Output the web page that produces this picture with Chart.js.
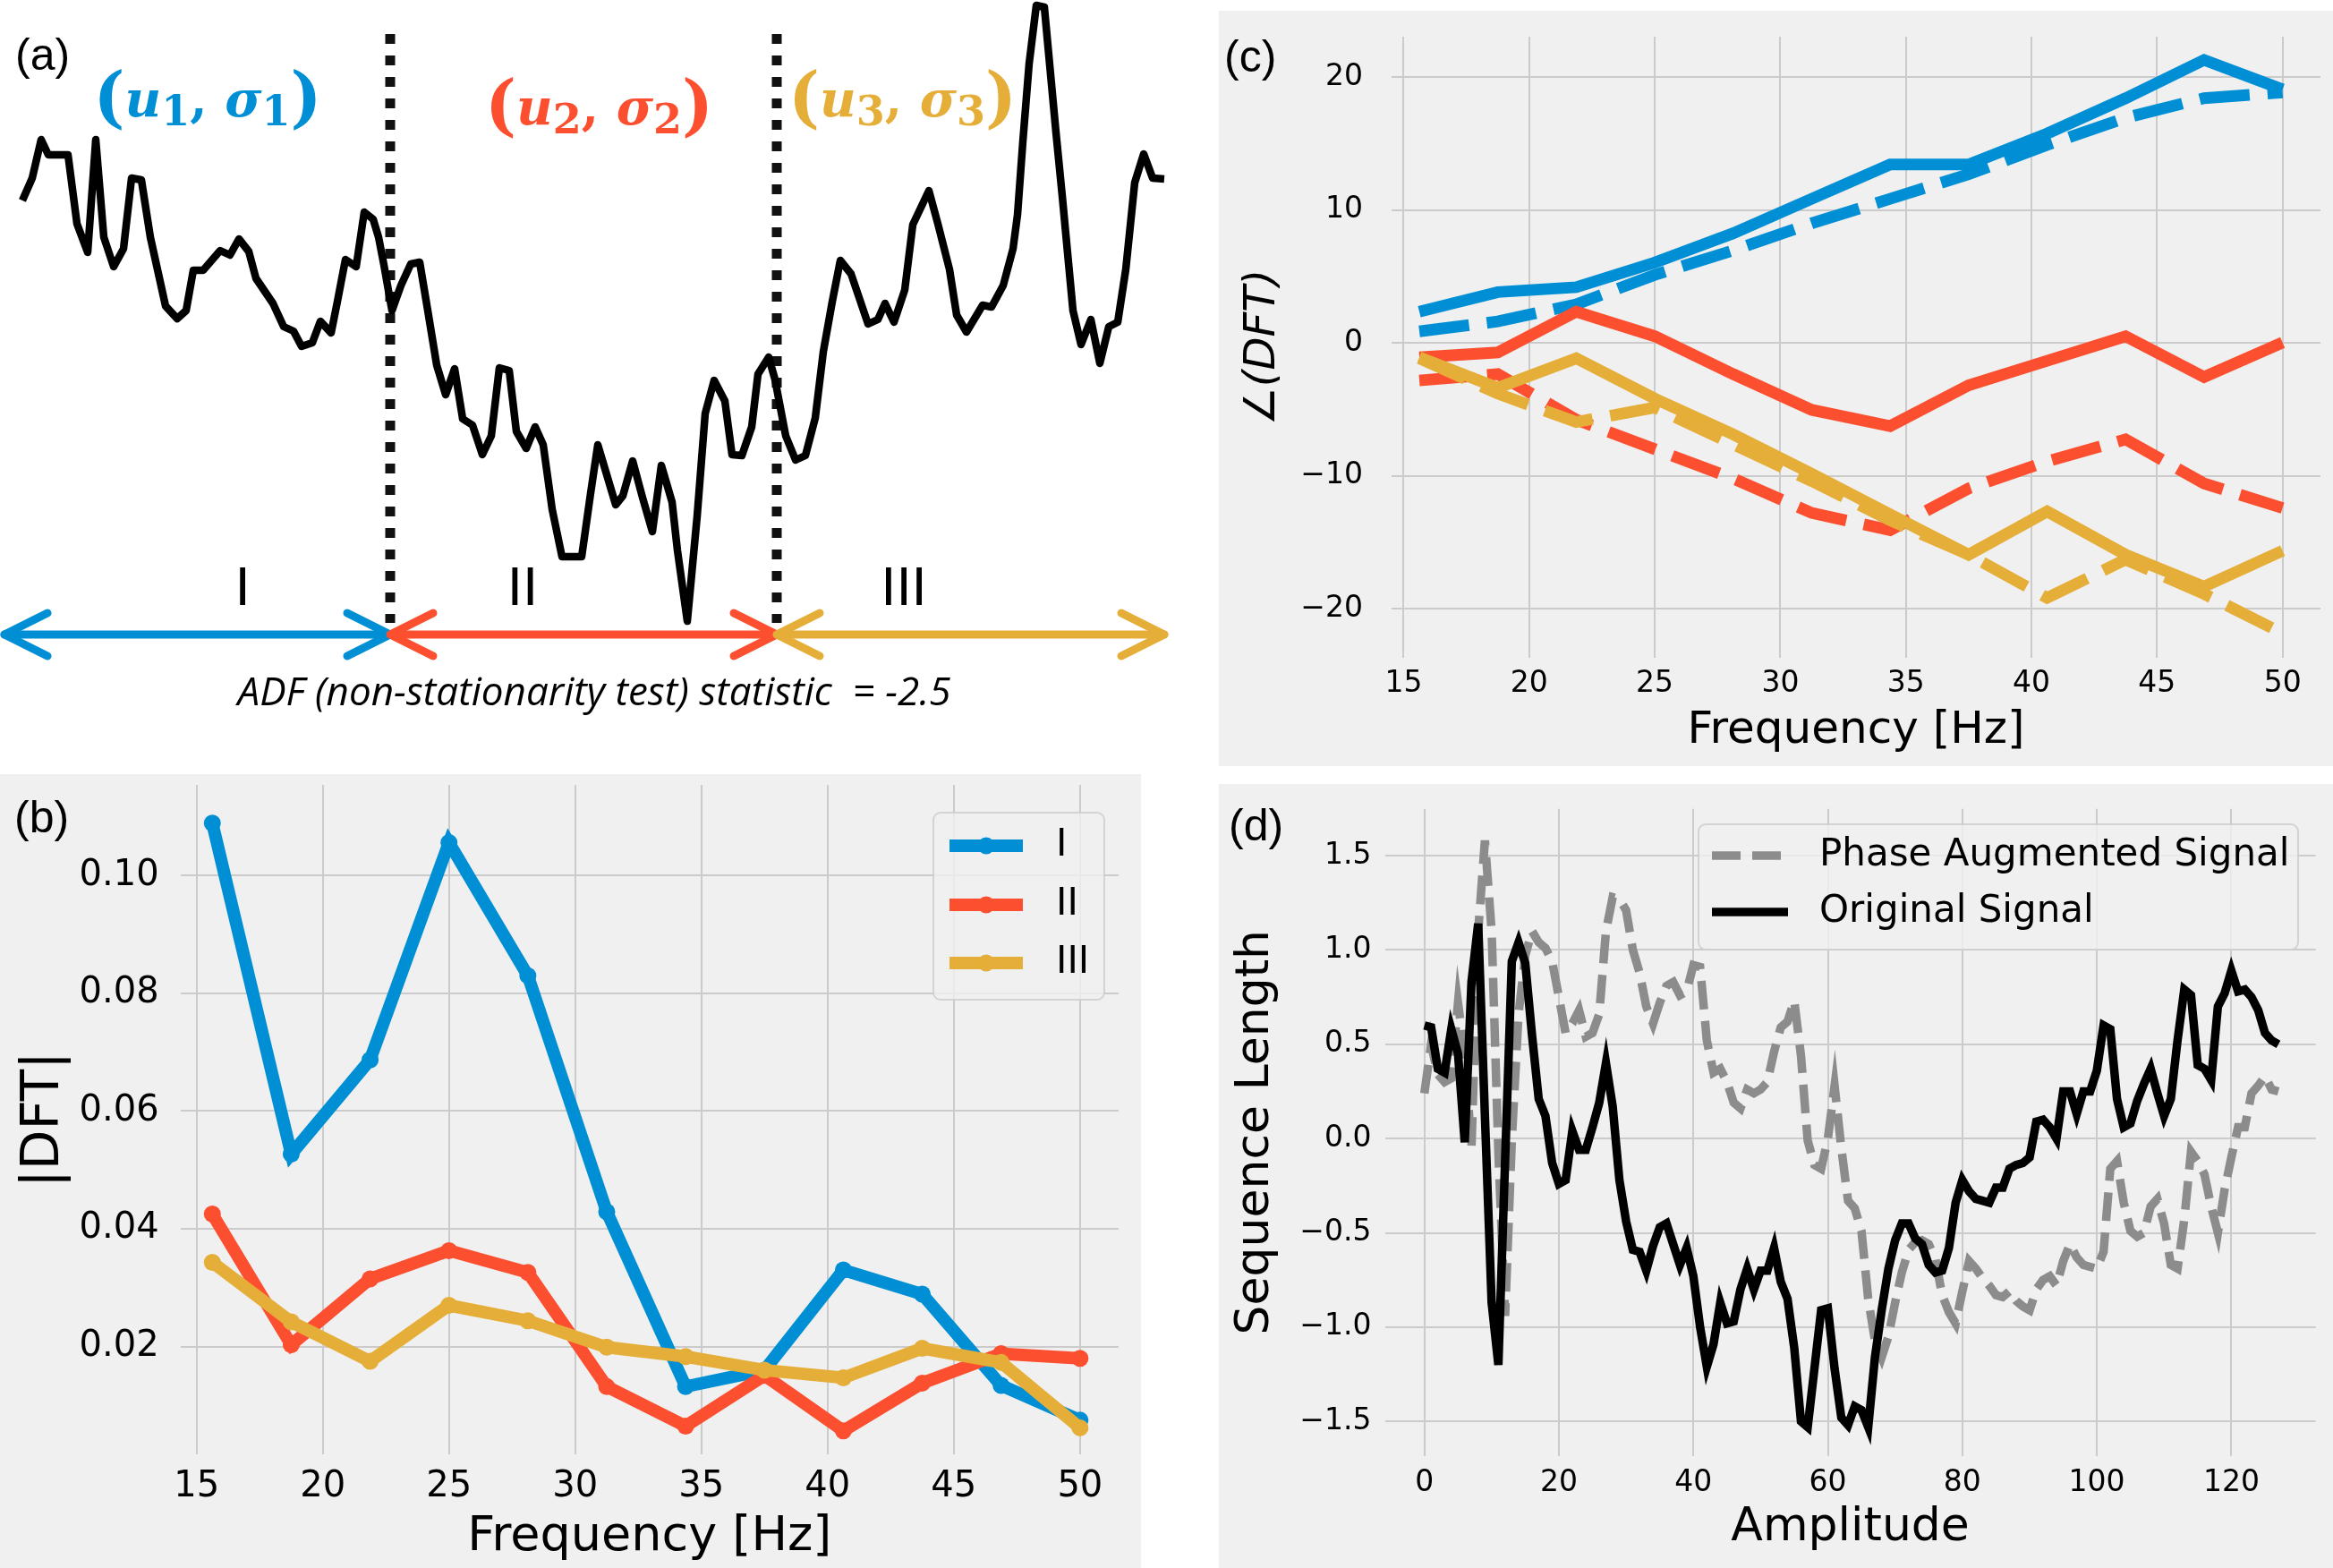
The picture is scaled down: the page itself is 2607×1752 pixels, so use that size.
<!DOCTYPE html>
<html>
<head>
<meta charset="utf-8">
<script src="https://cdn.jsdelivr.net/npm/chart.js@4.4.1/dist/chart.umd.min.js"></script>
<style>
  html, body { margin: 0; padding: 0; background: #fff; }
  body { position: relative; width: 2607px; height: 1752px; overflow: hidden; }
  canvas { position: absolute; }
  #panelA { left: 0; top: 0; }
  #panelB { left: 0; top: 865px; }
  #panelC { left: 1362px; top: 12px; }
  #panelD { left: 1362px; top: 876px; }
</style>
</head>
<body>
<canvas id="panelA" width="1330" height="860"></canvas>
<canvas id="panelB" width="1275" height="887"></canvas>
<canvas id="panelC" width="1245" height="844"></canvas>
<canvas id="panelD" width="1245" height="876"></canvas>
<script>
// ===== DATA =====
// (a) example signal with three regimes
const sigTime = [
  0.0, 1.1, 2.1, 2.9, 3.8, 5.1, 6.1, 7.3, 8.2, 9.1,
  10.2, 11.3, 12.2, 13.3, 14.3, 16.0, 17.3, 18.3, 19.1, 20.2,
  22.1, 23.2, 24.2, 25.3, 26.1, 28.0, 29.2, 30.3, 31.2, 32.4,
  33.3, 34.5, 35.2, 36.1, 37.3, 38.2, 39.2, 39.8, 40.4, 41.3,
  42.3, 43.4, 44.4, 45.3, 46.3, 47.3, 48.3, 49.2, 50.3, 51.4,
  52.4, 53.3, 54.4, 55.2, 56.3, 57.3, 58.2, 59.2, 60.3, 62.5,
  63.5, 64.3, 66.3, 67.1, 68.2, 69.3, 70.4, 71.4, 72.6, 73.2,
  74.3, 75.4, 76.3, 77.3, 78.5, 79.3, 80.4, 81.5, 82.2, 83.4,
  84.1, 85.3, 86.4, 87.5, 88.6, 89.5, 90.5, 91.4, 92.6, 94.5,
  95.6, 96.4, 97.4, 98.6, 99.5, 101.3, 102.3, 103.6, 104.4, 105.5,
  107.3, 108.3, 109.6, 110.7, 111.2, 111.8, 112.5, 113.3, 114.2, 115.5,
  116.2, 117.4, 118.3, 119.4, 120.4, 121.4, 122.4, 123.3, 124.3, 125.3,
  126.3, 127.6
];
const sigValue = [
  1.56, 1.81, 2.24, 2.07, 2.07, 2.07, 1.30, 0.98, 2.24, 1.15,
  0.82, 1.02, 1.81, 1.79, 1.15, 0.38, 0.24, 0.33, 0.78, 0.78,
  1.00, 0.95, 1.13, 0.99, 0.69, 0.41, 0.15, 0.10, -0.07, -0.03,
  0.21, 0.08, 0.43, 0.90, 0.82, 1.43, 1.35, 1.15, 0.84, 0.33,
  0.61, 0.85, 0.87, 0.33, -0.28, -0.61, -0.32, -0.88, -0.95, -1.28,
  -1.07, -0.31, -0.34, -1.02, -1.21, -0.97, -1.17, -1.89, -2.42, -2.42,
  -1.71, -1.17, -1.84, -1.74, -1.35, -1.76, -2.14, -1.40, -1.81, -2.35,
  -3.14, -1.97, -0.82, -0.45, -0.68, -1.28, -1.29, -0.97, -0.38, -0.19,
  -0.44, -1.07, -1.34, -1.29, -0.87, -0.13, 0.43, 0.89, 0.74, 0.18,
  0.23, 0.41, 0.20, 0.56, 1.29, 1.67, 1.30, 0.79, 0.28, 0.09,
  0.39, 0.37, 0.61, 1.02, 1.40, 2.22, 3.09, 3.74, 3.72, 2.32,
  1.61, 0.33, -0.05, 0.23, -0.26, 0.15, 0.20, 0.79, 1.76, 2.08,
  1.81, 1.80
];
const segBounds = [-2.0, 41.1, 84.3, 127.6];
const segLabels = ['I', 'II', 'III'];
const adfText = 'ADF (non-stationarity test) statistic  = -2.5';

// (b), (c) frequency bins
const freqs = [15.625, 18.75, 21.875, 25, 28.125, 31.25, 34.375, 37.5, 40.625, 43.75, 46.875, 50];
const dftMag1 = [0.1089, 0.0527, 0.0687, 0.1056, 0.0830, 0.0429, 0.0132, 0.0160, 0.0330, 0.0289, 0.0134, 0.0075];
const dftMag2 = [0.0425, 0.0203, 0.0315, 0.0363, 0.0326, 0.0132, 0.0065, 0.0151, 0.0057, 0.0138, 0.0188, 0.0180];
const dftMag3 = [0.0343, 0.0242, 0.0175, 0.0270, 0.0244, 0.0199, 0.0183, 0.0160, 0.0147, 0.0197, 0.0173, 0.0062];

const phase1 = [2.35, 3.82, 4.19, 6.04, 8.25, 10.84, 13.43, 13.43, 15.75, 18.41, 21.29, 19.08];
const phase1Aug = [0.87, 1.61, 2.90, 5.12, 6.96, 9.00, 10.84, 12.69, 14.90, 16.93, 18.41, 18.85];
const phase2 = [-1.09, -0.72, 2.35, 0.50, -2.35, -5.04, -6.26, -3.19, -1.35, 0.50, -2.57, 0.02];
const phase2Aug = [-2.83, -2.35, -5.78, -8.00, -10.21, -12.80, -14.09, -10.95, -8.92, -7.26, -10.58, -12.43];
const phase3 = [-1.09, -3.38, -1.16, -4.19, -6.89, -9.84, -12.91, -15.94, -12.69, -15.94, -18.34, -15.64];
const phase3Aug = [-1.16, -3.82, -5.96, -4.86, -7.63, -10.40, -13.35, -15.94, -19.19, -16.31, -18.89, -21.85];

const freqTicks = [15, 20, 25, 30, 35, 40, 45, 50];
const magTicks = [0.02, 0.04, 0.06, 0.08, 0.10];
const phaseTicks = [-20, -10, 0, 10, 20];

// (d) original vs phase augmented signal (128 samples)
const original = [
  0.60, 0.59, 0.37, 0.35, 0.58, 0.45, -0.02, 0.83, 1.14, 0.12, -0.87, -1.20, -0.12, 0.94, 1.04, 0.93,
  0.55, 0.21, 0.12, -0.13, -0.24, -0.22, 0.04, -0.06, -0.06, 0.06, 0.19, 0.40, 0.17, -0.22, -0.44, -0.59,
  -0.60, -0.70, -0.57, -0.47, -0.45, -0.56, -0.67, -0.58, -0.73, -1.00, -1.21, -1.09, -0.87, -0.98, -0.97, -0.80,
  -0.69, -0.80, -0.70, -0.70, -0.58, -0.76, -0.85, -1.11, -1.50, -1.53, -1.22, -0.91, -0.90, -1.22, -1.48, -1.52,
  -1.42, -1.44, -1.53, -1.16, -0.91, -0.69, -0.54, -0.45, -0.45, -0.53, -0.56, -0.67, -0.71, -0.70, -0.58, -0.34,
  -0.22, -0.28, -0.32, -0.33, -0.34, -0.26, -0.26, -0.16, -0.14, -0.13, -0.10, 0.09, 0.10, 0.06, 0.00, 0.25,
  0.25, 0.13, 0.25, 0.25, 0.36, 0.60, 0.58, 0.21, 0.06, 0.08, 0.20, 0.29, 0.37, 0.24, 0.12, 0.21,
  0.52, 0.79, 0.76, 0.39, 0.37, 0.31, 0.70, 0.77, 0.89, 0.78, 0.79, 0.75, 0.68, 0.56, 0.52, 0.50
];
const augmented = [
  0.24, 0.50, 0.34, 0.30, 0.32, 0.72, 0.45, -0.05, 1.10, 1.58, 1.10, -0.07, -0.94, -0.01, 0.66, 0.97,
  1.10, 1.04, 1.01, 0.94, 0.75, 0.56, 0.61, 0.68, 0.54, 0.56, 0.66, 1.10, 1.28, 1.27, 1.21, 1.00,
  0.88, 0.70, 0.61, 0.72, 0.81, 0.83, 0.76, 0.78, 0.92, 0.91, 0.52, 0.35, 0.37, 0.30, 0.19, 0.16,
  0.26, 0.24, 0.26, 0.30, 0.46, 0.59, 0.62, 0.73, 0.44, -0.01, -0.14, -0.16, 0.00, 0.28, -0.05, -0.33,
  -0.37, -0.49, -0.85, -1.07, -1.16, -1.05, -0.87, -0.71, -0.59, -0.55, -0.54, -0.56, -0.64, -0.83, -0.92, -0.98,
  -0.81, -0.65, -0.69, -0.74, -0.78, -0.83, -0.84, -0.81, -0.86, -0.89, -0.91, -0.80, -0.75, -0.73, -0.78, -0.65,
  -0.56, -0.63, -0.67, -0.68, -0.69, -0.60, -0.16, -0.12, -0.34, -0.49, -0.52, -0.50, -0.36, -0.32, -0.45, -0.67,
  -0.69, -0.43, -0.07, -0.12, -0.19, -0.36, -0.50, -0.27, -0.10, 0.06, 0.06, 0.24, 0.28, 0.33, 0.26, 0.25
];
const ampTicks = [0, 20, 40, 60, 80, 100, 120];
const lenTicks = [-1.5, -1.0, -0.5, 0, 0.5, 1.0, 1.5];

// ===== STYLE =====
const segColors = ['#008fd5', '#fc4f30', '#e5ae38'];
const gridColor = '#cbcbcb';
Chart.defaults.font.family = '"DejaVu Sans", sans-serif';
Chart.defaults.color = '#000';

const base = {
  responsive: false, animation: false, devicePixelRatio: 1,
  plugins: { legend: { display: false }, tooltip: { enabled: false } }
};

// ===== HELPERS =====
const setTicks = vals => axis => { axis.ticks = vals.map(v => ({ value: v })); };
const fitX = h => s => { s.height = h; s.paddingLeft = 0; s.paddingRight = 0; };
const fitY = w => s => { s.width = w; s.paddingTop = 0; s.paddingBottom = 0; };
const minus = s => s.replace('-', '\u2212');
const xy = (xs, ys) => ys.map((v, i) => ({ x: xs[i], y: v }));

const bgFill = {
  id: 'bgFill',
  beforeDraw(chart) {
    const { ctx, width, height } = chart;
    ctx.save();
    ctx.fillStyle = '#f0f0f0';
    ctx.fillRect(0, 0, width, height);
    ctx.restore();
  }
};

function tag(text, x, y) {
  return {
    id: 'tag',
    afterDraw(chart) {
      const ctx = chart.ctx;
      ctx.save();
      ctx.font = '50px "Liberation Sans"';
      ctx.fillStyle = '#000';
      ctx.textAlign = 'left';
      ctx.textBaseline = 'alphabetic';
      ctx.fillText(text, x, y);
      ctx.restore();
    }
  };
}

function insetLegend(cfg) {
  return {
    id: 'insetLegend',
    afterDraw(chart) {
      const ctx = chart.ctx;
      const [bx, by, bw, bh] = cfg.box;
      ctx.save();
      ctx.beginPath();
      ctx.roundRect(bx, by, bw, bh, 8);
      ctx.fillStyle = 'rgba(240,240,240,0.8)';
      ctx.fill();
      ctx.strokeStyle = 'rgba(204,204,204,0.8)';
      ctx.lineWidth = 2;
      ctx.stroke();
      cfg.items.forEach((idx, row) => {
        const ds = chart.data.datasets[idx];
        const y = cfg.rowY[row];
        ctx.beginPath();
        ctx.setLineDash(ds.borderDash || []);
        ctx.strokeStyle = ds.borderColor;
        ctx.lineWidth = ds.borderWidth;
        ctx.lineCap = 'butt';
        ctx.moveTo(cfg.handle[0], y);
        ctx.lineTo(cfg.handle[1], y);
        ctx.stroke();
        ctx.setLineDash([]);
        if (ds.pointRadius) {
          ctx.beginPath();
          ctx.arc((cfg.handle[0] + cfg.handle[1]) / 2, y, ds.pointRadius, 0, 2 * Math.PI);
          ctx.fillStyle = ds.borderColor;
          ctx.fill();
        }
        ctx.fillStyle = '#000';
        ctx.font = cfg.font;
        ctx.textAlign = 'left';
        ctx.textBaseline = 'middle';
        ctx.fillText(ds.label, cfg.textX, y);
      });
      ctx.restore();
    }
  };
}

// ===== (a) SIGNAL SKETCH =====
const boundTop = 3.42, boundBottom = -3.16, arrowLevel = -3.29;
const paramAnchor = [[20.7, 2.50], [64.45, 2.41], [98.35, 2.50]];
const romanAnchor = [24.6, 55.9, 98.5], romanLevel = -2.96;
const adfAnchor = [63.9, -4.08];

function drawRuns(ctx, runs, cx, by) {
  let total = 0;
  runs.forEach(r => { ctx.font = r.font; r.w = ctx.measureText(r.text).width; total += r.w; });
  let x = cx - total / 2;
  runs.forEach(r => { ctx.font = r.font; ctx.fillText(r.text, x, by + (r.dy || 0)); x += r.w; });
}

const arrowHeads = {
  id: 'arrowHeads',
  afterDatasetsDraw(chart) {
    const ctx = chart.ctx;
    ctx.save();
    chart.data.datasets.forEach((ds, i) => {
      if (!ds.arrow) return;
      const pts = chart.getDatasetMeta(i).data;
      ctx.strokeStyle = ds.borderColor;
      ctx.lineWidth = ds.borderWidth;
      ctx.lineCap = 'round';
      ctx.lineJoin = 'round';
      [[pts[0], 1], [pts[pts.length - 1], -1]].forEach(([p, dir]) => {
        ctx.beginPath();
        ctx.moveTo(p.x + dir * 48, p.y - 24);
        ctx.lineTo(p.x, p.y);
        ctx.lineTo(p.x + dir * 48, p.y + 24);
        ctx.stroke();
      });
    });
    ctx.restore();
  }
};

const panelAText = {
  id: 'panelAText',
  afterDatasetsDraw(chart) {
    const { ctx, scales: { x, y } } = chart;
    ctx.save();
    ctx.textAlign = 'left';
    ctx.textBaseline = 'alphabetic';
    paramAnchor.forEach(([t, v], i) => {
      const k = String(i + 1);
      ctx.fillStyle = segColors[i];
      drawRuns(ctx, [
        { text: '(', font: 'bold 74px "DejaVu Serif"', dy: 4 },
        { text: 'u', font: 'bold italic 56px "DejaVu Serif"' },
        { text: k, font: 'bold 46px "DejaVu Serif"', dy: 10 },
        { text: ', ', font: 'bold 56px "DejaVu Serif"' },
        { text: '\u03c3', font: 'bold italic 56px "DejaVu Serif"' },
        { text: k, font: 'bold 46px "DejaVu Serif"', dy: 10 },
        { text: ')', font: 'bold 74px "DejaVu Serif"', dy: 4 }
      ], x.getPixelForValue(t), y.getPixelForValue(v));
    });
    ctx.fillStyle = '#000';
    ctx.textAlign = 'center';
    ctx.font = '62px "Liberation Sans"';
    romanAnchor.forEach((t, i) => {
      ctx.fillText(segLabels[i], x.getPixelForValue(t), y.getPixelForValue(romanLevel));
    });
    ctx.font = 'italic 44px "Open Sans"';
    ctx.fillText(adfText, x.getPixelForValue(adfAnchor[0]), y.getPixelForValue(adfAnchor[1]), 840);
    ctx.restore();
  }
};

new Chart(document.getElementById('panelA'), {
  type: 'line',
  data: {
    datasets: [
      { data: xy(sigTime, sigValue), borderColor: '#000', borderWidth: 8.5, pointRadius: 0, borderJoinStyle: 'round' },
      ...segBounds.slice(1, 3).map(b => ({
        data: [{ x: b, y: boundTop }, { x: b, y: boundBottom }],
        borderColor: '#111', borderWidth: 11, borderDash: [11, 13], borderCapStyle: 'butt', pointRadius: 0
      })),
      ...segColors.map((c, i) => ({
        data: [{ x: segBounds[i], y: arrowLevel }, { x: segBounds[i + 1], y: arrowLevel }],
        borderColor: c, borderWidth: 9, borderCapStyle: 'round', pointRadius: 0, arrow: true
      }))
    ]
  },
  options: {
    ...base,
    layout: { padding: 0 },
    scales: {
      x: { type: 'linear', min: -2.5, max: 130.5, display: false },
      y: { min: -4.8, max: 3.8, display: false }
    }
  },
  plugins: [arrowHeads, panelAText, tag('(a)', 17, 78)]
});

// ===== (b) DFT MAGNITUDE =====
const magSeries = [dftMag1, dftMag2, dftMag3];
new Chart(document.getElementById('panelB'), {
  type: 'line',
  data: {
    datasets: magSeries.map((vals, i) => ({
      label: segLabels[i],
      data: xy(freqs, vals),
      borderColor: segColors[i], backgroundColor: segColors[i],
      borderWidth: 14, pointRadius: 9.5, pointBorderWidth: 0, pointBackgroundColor: segColors[i],
      order: 2 - i
    }))
  },
  options: {
    ...base,
    layout: { padding: { left: 0, top: 12, right: 25, bottom: 0 } },
    scales: {
      x: {
        type: 'linear', min: 14.36, max: 51.53,
        afterBuildTicks: setTicks(freqTicks), afterFit: fitX(127),
        grid: { color: gridColor, lineWidth: 2, drawTicks: false }, border: { display: false },
        ticks: { padding: 13, maxRotation: 0, font: { size: 40 }, callback: v => String(v) },
        title: { display: true, text: 'Frequency [Hz]', font: { size: 54 }, padding: { top: 0, bottom: 2 } }
      },
      y: {
        min: 0.0017, max: 0.1154,
        afterBuildTicks: setTicks(magTicks), afterFit: fitY(201.6),
        grid: { color: gridColor, lineWidth: 2, drawTicks: false }, border: { display: false },
        ticks: { padding: 24, font: { size: 40 }, callback: v => v.toFixed(2) },
        title: { display: true, text: '|DFT|', font: { size: 58 }, padding: { top: 15, bottom: 0 } }
      }
    }
  },
  plugins: [bgFill, tag('(b)', 16, 65),
    insetLegend({ box: [1043, 43, 191, 209], items: [0, 1, 2], rowY: [80, 146, 211], handle: [1061, 1143], textX: 1180, font: '42px "DejaVu Sans"' })]
});

// ===== (c) DFT PHASE =====
const phaseDash = [56, 20];
const phaseSets = [
  [phase1, segColors[0], []], [phase1Aug, segColors[0], phaseDash],
  [phase2, segColors[1], []], [phase2Aug, segColors[1], phaseDash],
  [phase3, segColors[2], []], [phase3Aug, segColors[2], phaseDash]
];
new Chart(document.getElementById('panelC'), {
  type: 'line',
  data: {
    datasets: phaseSets.map(([vals, color, dash], i) => ({
      data: xy(freqs, vals),
      borderColor: color, borderWidth: 13, borderDash: dash, borderCapStyle: 'butt',
      pointRadius: 0, order: 5 - i
    }))
  },
  options: {
    ...base,
    layout: { padding: { left: 0, top: 29, right: 14, bottom: 0 } },
    scales: {
      x: {
        type: 'linear', min: 14.52, max: 51.51,
        afterBuildTicks: setTicks(freqTicks), afterFit: fitX(121),
        grid: { color: gridColor, lineWidth: 2, drawTicks: false }, border: { display: false },
        ticks: { padding: 10, maxRotation: 0, font: { size: 33 }, callback: v => String(v) },
        title: { display: true, text: 'Frequency [Hz]', font: { size: 50 }, padding: { top: 0, bottom: 9 } }
      },
      y: {
        min: -23.7, max: 23.04,
        afterBuildTicks: setTicks(phaseTicks), afterFit: fitY(193),
        grid: { color: gridColor, lineWidth: 2, drawTicks: false }, border: { display: false },
        ticks: { padding: 32, font: { size: 33 }, callback: v => minus(String(v)) },
        title: { display: true, text: '\u2220(DFT)', font: { size: 48, style: 'italic' }, padding: { top: 21, bottom: 0 } }
      }
    }
  },
  plugins: [bgFill, tag('(c)', 6, 68)]
});

// ===== (d) ORIGINAL VS AUGMENTED =====
const sampleIdx = original.map((_, i) => i);
new Chart(document.getElementById('panelD'), {
  type: 'line',
  data: {
    datasets: [
      { label: 'Phase Augmented Signal', data: xy(sampleIdx, augmented), borderColor: '#8c8c8c',
        borderWidth: 9.5, borderDash: [32, 13], borderCapStyle: 'butt', pointRadius: 0, order: 1 },
      { label: 'Original Signal', data: xy(sampleIdx, original), borderColor: '#000',
        borderWidth: 9.5, pointRadius: 0, order: 0 }
    ]
  },
  options: {
    ...base,
    layout: { padding: { left: 0, top: 27.8, right: 19.3, bottom: 0 } },
    scales: {
      x: {
        type: 'linear', min: -5.88, max: 132.55,
        afterBuildTicks: setTicks(ampTicks), afterFit: fitX(125.4),
        grid: { color: gridColor, lineWidth: 2, drawTicks: false }, border: { display: false },
        ticks: { padding: 11, maxRotation: 0, font: { size: 33 }, callback: v => String(v) },
        title: { display: true, text: 'Amplitude', font: { size: 52 }, padding: { top: 0, bottom: 13 } }
      },
      y: {
        min: -1.682, max: 1.748,
        afterBuildTicks: setTicks(lenTicks), afterFit: fitY(185.5),
        grid: { color: gridColor, lineWidth: 2, drawTicks: false }, border: { display: false },
        ticks: { padding: 15, font: { size: 33 }, callback: v => minus(v.toFixed(1)) },
        title: { display: true, text: 'Sequence Length', font: { size: 52 }, padding: { top: 10, bottom: 0 } }
      }
    }
  },
  plugins: [bgFill, tag('(d)', 11, 63),
    insetLegend({ box: [536, 45, 670, 140], items: [0, 1], rowY: [80, 143], handle: [551, 636], textX: 671, font: '42px "DejaVu Sans"' })]
});
</script>
</body>
</html>
